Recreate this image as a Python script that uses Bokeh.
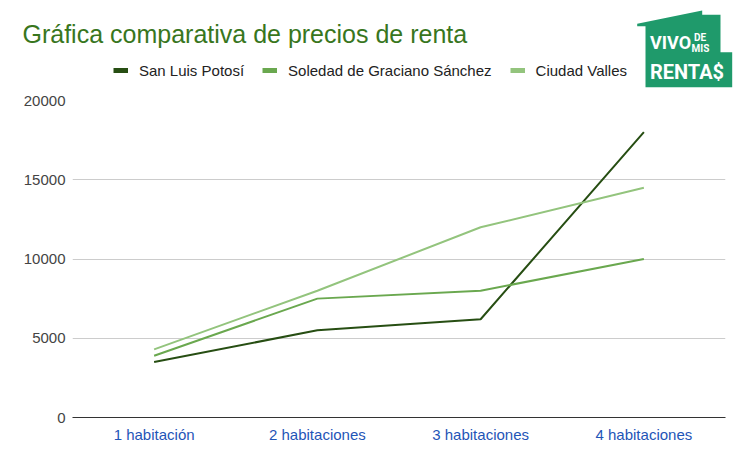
from bokeh.plotting import figure
from bokeh.layouts import column, row
from bokeh.models import Legend, LegendItem, FixedTicker, Range1d
from bokeh.core.properties import value
from bokeh.embed import file_html
from bokeh.resources import INLINE

categories = ["1 habitación", "2 habitaciones", "3 habitaciones", "4 habitaciones"]
series_names = ["San Luis Potosí", "Soledad de Graciano Sánchez", "Ciudad Valles"]
san_luis = [3500, 5500, 6200, 18000]
soledad = [3900, 7500, 8000, 10000]
valles = [4300, 8000, 12000, 14500]
y_ticks = [0, 5000, 10000, 15000, 20000]
title_text = "Gráfica comparativa de precios de renta"

colors = ["#274e13", "#6aa84f", "#93c47d"]
FONT = "Liberation Sans"
W, H = 745, 455
TOP = 90

# ---------- header (title, legend, logo) ----------
hdr = figure(width=W, height=TOP, output_backend="svg", toolbar_location=None,
             x_range=Range1d(0, W), y_range=Range1d(TOP, 0),
             min_border=0, min_border_left=0, min_border_right=0,
             min_border_top=0, min_border_bottom=0)
hdr.axis.visible = False
hdr.grid.visible = False
hdr.outline_line_color = None
hdr.background_fill_color = "white"
hdr.border_fill_color = "white"

hdr.text(x=[22], y=[33.0], text=[title_text], text_font=value(FONT),
         text_font_size="25px", text_color="#38761d", text_baseline="middle")

legend_items = []
for name, c in zip(series_names, colors):
    d = hdr.line([-50, -40], [-50, -40], line_color=c, line_width=5)
    legend_items.append(LegendItem(label=name, renderers=[d]))
legend = Legend(items=legend_items, orientation="horizontal",
                location=(113, TOP - 70 - 9), padding=0, margin=0,
                spacing=18, glyph_width=15, glyph_height=18, label_height=18,
                label_standoff=11, label_text_font=FONT, label_text_font_size="15px",
                label_text_color="#222222", border_line_color=None,
                background_fill_alpha=0)
hdr.add_layout(legend, "center")

house_x = [636.7, 701.7, 701.7, 720, 720, 731.7, 731.7, 645, 645, 636.7]
house_y = [23.3, 10, 14.3, 14.3, 51.7, 51.7, 86.7, 86.7, 25.7, 25.7]
hdr.patch(house_x, house_y, fill_color="#1f9a6b", line_color=None)
LF = value("Roboto")
for txt, x, y, size in [("VIVO", 670, 42, "18px"), ("RENTA$", 686.5, 71, "20px"),
                        ("DE", 699.5, 37, "10px"), ("MIS", 700, 47.5, "10px")]:
    hdr.text(x=[x], y=[y], text=[txt], text_font=LF, text_font_size=size,
             text_font_style="bold", text_color="white", text_align="center",
             text_baseline="middle")

# ---------- main chart ----------
p = figure(x_range=categories, width=W, height=H - TOP, output_backend="svg",
           toolbar_location=None, min_border_left=72, min_border_right=20,
           min_border_top=10, min_border_bottom=38)
p.y_range = Range1d(0, 20000)
p.outline_line_color = None
p.background_fill_color = "white"
p.border_fill_color = "white"

for vals, c in zip([san_luis, soledad, valles], colors):
    p.line(categories, vals, line_color=c, line_width=2)

p.yaxis.ticker = FixedTicker(ticks=y_ticks)
p.yaxis.axis_line_color = None
p.yaxis.major_tick_line_color = None
p.yaxis.minor_tick_line_color = None
p.yaxis.major_label_standoff = 1
p.yaxis.major_label_text_font = FONT
p.yaxis.major_label_text_font_size = "15px"
p.yaxis.major_label_text_color = "#444444"

p.xaxis.axis_line_color = "#333333"
p.xaxis.axis_line_width = 1
p.xaxis.major_tick_line_color = None
p.xaxis.minor_tick_line_color = None
p.xaxis.major_label_standoff = 2
p.xaxis.major_label_text_font = FONT
p.xaxis.major_label_text_font_size = "15px"
p.xaxis.major_label_text_color = "#1f55b7"

p.xgrid.grid_line_color = None
p.ygrid.grid_line_color = "#cccccc"
p.ygrid.grid_line_width = 1

layout = column(row(hdr), p, spacing=0)
open("out.html", "w").write(file_html(layout, INLINE))
